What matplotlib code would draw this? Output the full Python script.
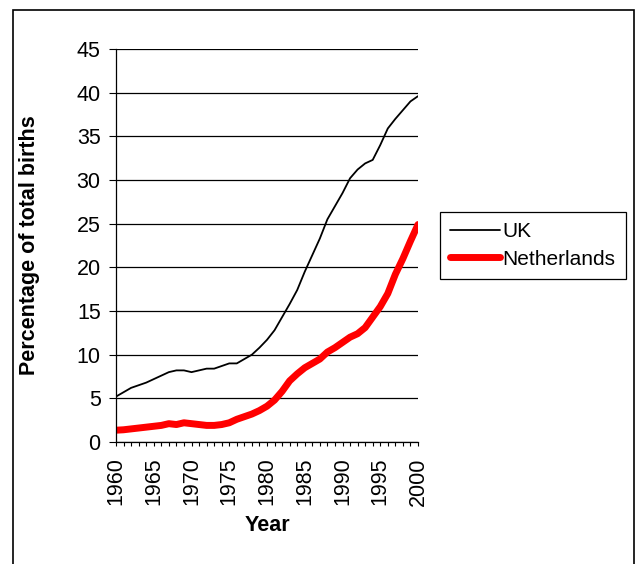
import matplotlib
matplotlib.use("Agg")
import matplotlib.pyplot as plt
from matplotlib.patches import Rectangle
from matplotlib.ticker import MultipleLocator

years = list(range(1960, 2001))
uk = [5.2, 5.7, 6.2, 6.5, 6.8, 7.2, 7.6, 8.0, 8.2, 8.2,
      8.0, 8.2, 8.4, 8.4, 8.7, 9.0, 9.0, 9.5, 10.0, 10.8,
      11.7, 12.8, 14.3, 15.8, 17.4, 19.5, 21.4, 23.3, 25.5, 27.0,
      28.5, 30.2, 31.2, 31.9, 32.3, 34.0, 35.9, 37.0, 38.0, 39.0,
      39.6]
netherlands = [1.35, 1.4, 1.5, 1.6, 1.7, 1.8, 1.9, 2.1, 2.0, 2.2,
               2.1, 2.0, 1.9, 1.9, 2.0, 2.2, 2.6, 2.9, 3.2, 3.6,
               4.1, 4.8, 5.8, 7.0, 7.8, 8.5, 9.0, 9.5, 10.3, 10.8,
               11.4, 12.0, 12.4, 13.1, 14.3, 15.5, 17.0, 19.2, 21.0, 23.0,
               24.9]

plt.rcParams['font.family'] = ['Liberation Sans', 'DejaVu Sans']

W, H = 638, 564
fig = plt.figure(figsize=(W / 100, H / 100), dpi=100)
ax = fig.add_axes([116 / W, 1 - 442 / H, (418 - 116) / W, (442 - 49) / H])

ax.plot(years, uk, color='black', lw=1.3, label='UK', solid_capstyle='round')
ax.plot(years, netherlands, color='#ff0000', lw=5, label='Netherlands',
        solid_capstyle='round')

ax.set_xlim(1960, 2000)
ax.set_ylim(0, 45)
ax.xaxis.set_major_locator(MultipleLocator(5))
ax.xaxis.set_minor_locator(MultipleLocator(1))
ax.yaxis.set_major_locator(MultipleLocator(5))
ax.tick_params(axis='x', which='both', direction='out', length=3, width=0.8,
               labelsize=15.5, pad=8, labelrotation=90)
ax.tick_params(axis='y', direction='out', length=5, width=0.8,
               labelsize=15.5, pad=6)

ax.grid(axis='y', color='black', lw=0.9)
ax.set_axisbelow(True)
for side in ('top', 'right'):
    ax.spines[side].set_visible(False)
for side in ('left', 'bottom'):
    ax.spines[side].set_linewidth(0.9)

ax.set_xlabel('Year', fontsize=15.5, fontweight='bold', labelpad=7)
ax.set_ylabel('Percentage of total births', fontsize=15.5, fontweight='bold',
              labelpad=26)

leg = ax.legend(loc='upper left', bbox_to_anchor=(440 / W, 1 - 212 / H),
                bbox_transform=fig.transFigure, borderaxespad=0,
                fontsize=15, handlelength=2.4, handletextpad=0.1,
                borderpad=0.5, labelspacing=0.4, fancybox=False,
                framealpha=1, edgecolor='black')
leg.get_frame().set_linewidth(0.9)

fig.patches.append(Rectangle((13 / W, -0.1), (634 - 13) / W, 1.1 - 10 / H,
                             transform=fig.transFigure, fill=False,
                             edgecolor='black', lw=1.2))

fig.savefig('out.png', dpi=100)
